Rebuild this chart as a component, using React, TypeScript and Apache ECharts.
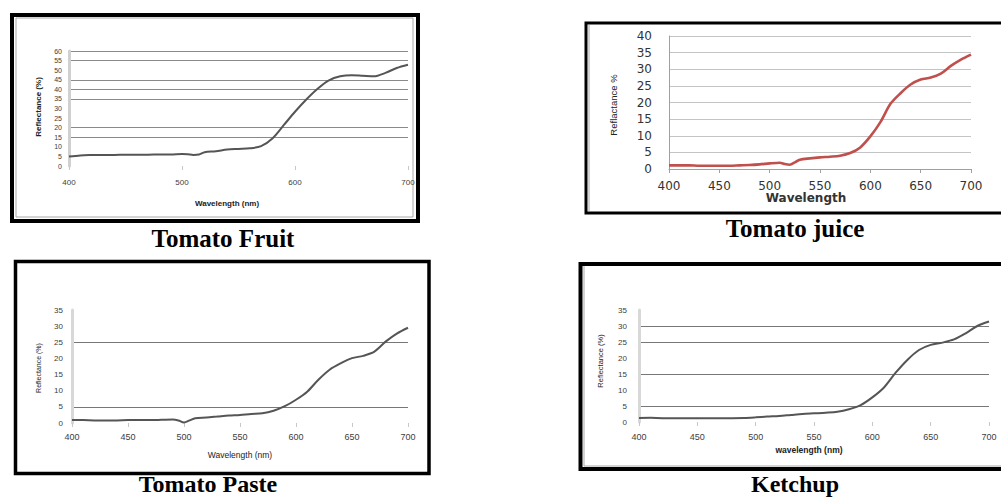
import React, { useEffect, useRef } from "react";
import * as echarts from "echarts";

// ---------- data ----------
const fruitWavelengths = [400, 410, 420, 430, 440, 450, 460, 470, 480, 490, 500, 505, 510, 515, 520, 530, 540, 550, 560, 570, 580, 590, 600, 610, 620, 630, 640, 650, 660, 670, 680, 690, 700];
const fruitReflectance = [4.9, 5.5, 5.7, 5.8, 5.8, 5.9, 5.9, 5.9, 6.0, 6.0, 6.2, 6.1, 5.8, 6.0, 7.2, 7.7, 8.6, 8.9, 9.2, 10.4, 14.4, 21.3, 28.3, 34.7, 40.3, 44.7, 46.8, 47.4, 47.1, 46.8, 48.6, 51.1, 52.8];

const juiceWavelengths = [400, 410, 420, 430, 440, 450, 460, 470, 480, 490, 500, 510, 515, 520, 525, 530, 540, 550, 560, 570, 580, 590, 600, 610, 620, 630, 640, 650, 660, 670, 680, 690, 700];
const juiceReflectance = [1.1, 1.1, 1.1, 1.0, 1.0, 1.0, 1.0, 1.1, 1.2, 1.4, 1.7, 1.9, 1.5, 1.3, 2.0, 2.8, 3.2, 3.5, 3.7, 4.0, 4.8, 6.5, 9.8, 14.1, 19.6, 22.8, 25.4, 26.9, 27.5, 28.7, 31.0, 32.9, 34.4];

const pasteWavelengths = [400, 410, 420, 430, 440, 450, 460, 470, 480, 490, 495, 500, 505, 510, 520, 530, 540, 550, 560, 570, 580, 590, 600, 610, 620, 630, 640, 650, 660, 670, 680, 690, 700];
const pasteReflectance = [0.9, 0.9, 0.8, 0.8, 0.8, 0.9, 0.9, 0.9, 1.0, 1.1, 0.8, 0.15, 0.8, 1.5, 1.7, 2.0, 2.3, 2.5, 2.8, 3.0, 3.8, 5.2, 7.2, 9.7, 13.4, 16.5, 18.5, 20.1, 20.8, 22.1, 25.2, 27.7, 29.5];

const ketchupWavelengths = [400, 410, 420, 430, 440, 450, 460, 470, 480, 490, 500, 510, 520, 530, 540, 550, 560, 570, 580, 590, 600, 610, 620, 630, 640, 650, 660, 670, 680, 690, 700];
const ketchupReflectance = [1.25, 1.3, 1.2, 1.2, 1.15, 1.15, 1.15, 1.2, 1.2, 1.25, 1.45, 1.7, 1.9, 2.2, 2.5, 2.7, 2.9, 3.2, 4.0, 5.3, 7.7, 10.8, 15.4, 19.4, 22.5, 24.1, 24.8, 25.8, 27.7, 30.0, 31.4];

// gridlines that are visible in each panel
const fruitGridValues = [15, 20, 35, 40, 45, 55, 60];
const pasteGridValues = [5, 25];
const ketchupGridValues = [5, 15, 25, 30];

const captions = ["Tomato Fruit", "Tomato juice", "Tomato Paste", "Ketchup"];
const yTitles = ["Reflectance (%)", "Reflactance %", "Reflectance (%)", "Reflectance (%)"];
const xTitles = ["Wavelength (nm)", "Wavelength", "Wavelength (nm)", "wavelength (nm)"];

// ---------- helpers ----------
const pairs = (xs: number[], ys: number[]) => xs.map((x, i) => [x, ys[i]]);

function gridColors(max: number, step: number, visible: number[], color: string) {
  const arr: string[] = [];
  for (let v = 0; v <= max; v += step) arr.push(visible.includes(v) ? color : "rgba(0,0,0,0)");
  return arr;
}

const SMALL = "Liberation Sans";
const GRAYLINE = "#8a8a8a";
const LABEL = "#404040";

export default function App() {
  const ref = useRef<HTMLDivElement>(null);

  useEffect(() => {
    if (!ref.current) return;
    const chart = echarts.init(ref.current, undefined, { renderer: "svg" });

    const smallX = (margin: number, size: number, interval: number) => ({
      type: "value",
      min: 400,
      max: 700,
      interval,
      splitLine: { show: false },
      axisLine: { show: false },
      axisTick: { show: true, length: 4, lineStyle: { color: "#c8c8c8", width: 1 } },
      axisLabel: { margin, fontSize: size, color: LABEL, fontFamily: SMALL },
    });

    const option: any = {
      animation: false,
      backgroundColor: "#ffffff",
      grid: [
        { left: 69, top: 51, width: 339, height: 115 },
        { left: 669, top: 36, width: 302, height: 133 },
        { left: 72, top: 310, width: 336, height: 113 },
        { left: 639, top: 310, width: 350, height: 112 },
      ],
      xAxis: [
        { gridIndex: 0, ...smallX(12, 8, 100) },
        {
          gridIndex: 1,
          type: "value",
          min: 400,
          max: 700,
          interval: 50,
          splitLine: { show: false },
          axisLine: { show: true, lineStyle: { color: "#a0a0a0", width: 1 } },
          axisTick: { show: true, length: 4, lineStyle: { color: "#a0a0a0" } },
          axisLabel: { margin: 11, fontSize: 12, color: "#333", fontFamily: "DejaVu Sans" },
        },
        { gridIndex: 2, ...smallX(9, 9, 50) },
        { gridIndex: 3, ...smallX(10, 9, 50) },
      ],
      yAxis: [
        {
          gridIndex: 0,
          type: "value",
          min: 0,
          max: 60,
          interval: 5,
          axisLine: { show: true, lineStyle: { color: "#d0d0d0", width: 3 } },
          axisTick: { show: false },
          axisLabel: { margin: 7, fontSize: 7, color: LABEL, fontFamily: SMALL },
          splitLine: { show: true, lineStyle: { color: gridColors(60, 5, fruitGridValues, GRAYLINE), width: 1 } },
        },
        {
          gridIndex: 1,
          type: "value",
          min: 0,
          max: 40,
          interval: 5,
          axisLine: { show: true, lineStyle: { color: "#a0a0a0", width: 1 } },
          axisTick: { show: false },
          axisLabel: { margin: 17, fontSize: 12, color: "#333", fontFamily: "DejaVu Sans" },
          splitLine: { show: true, lineStyle: { color: "#c4c4c4", width: 1 } },
        },
        {
          gridIndex: 2,
          type: "value",
          min: 0,
          max: 35,
          interval: 5,
          axisLine: { show: true, lineStyle: { color: "#d8d8d8", width: 3 } },
          axisTick: { show: false },
          axisLabel: { margin: 9, fontSize: 8, color: LABEL, fontFamily: SMALL },
          splitLine: { show: true, lineStyle: { color: gridColors(35, 5, pasteGridValues, "#777"), width: 1 } },
        },
        {
          gridIndex: 3,
          type: "value",
          min: 0,
          max: 35,
          interval: 5,
          axisLine: { show: true, lineStyle: { color: "#d8d8d8", width: 3 } },
          axisTick: { show: false },
          axisLabel: { margin: 12, fontSize: 8, color: LABEL, fontFamily: SMALL },
          splitLine: { show: true, lineStyle: { color: gridColors(35, 5, ketchupGridValues, "#777"), width: 1 } },
        },
      ],
      series: [
        {
          name: captions[0],
          type: "line",
          xAxisIndex: 0,
          yAxisIndex: 0,
          data: pairs(fruitWavelengths, fruitReflectance),
          smooth: 0.3,
          showSymbol: false,
          lineStyle: { color: "#555555", width: 2 },
        },
        {
          name: captions[1],
          type: "line",
          xAxisIndex: 1,
          yAxisIndex: 1,
          data: pairs(juiceWavelengths, juiceReflectance),
          smooth: 0.3,
          showSymbol: false,
          lineStyle: { color: "#c0504d", width: 2.6 },
        },
        {
          name: captions[2],
          type: "line",
          xAxisIndex: 2,
          yAxisIndex: 2,
          data: pairs(pasteWavelengths, pasteReflectance),
          smooth: 0.3,
          showSymbol: false,
          lineStyle: { color: "#555555", width: 2 },
        },
        {
          name: captions[3],
          type: "line",
          xAxisIndex: 3,
          yAxisIndex: 3,
          data: pairs(ketchupWavelengths, ketchupReflectance),
          smooth: 0.3,
          showSymbol: false,
          lineStyle: { color: "#555555", width: 2 },
        },
      ],
      graphic: [
        // panel frames
        { type: "rect", shape: { x: 12, y: 15, width: 406, height: 206 }, style: { fill: "none", stroke: "#000", lineWidth: 4 } },
        { type: "rect", shape: { x: 16, y: 18, width: 397, height: 199 }, style: { fill: "none", stroke: "#a8a8a8", lineWidth: 1 } },
        { type: "rect", shape: { x: 586, y: 23, width: 430, height: 190 }, style: { fill: "none", stroke: "#000", lineWidth: 3 } },
        { type: "line", shape: { x1: 589, y1: 25, x2: 589, y2: 211 }, style: { stroke: "#a8a8a8", lineWidth: 1 } },
        { type: "rect", shape: { x: 15.5, y: 261.5, width: 413.5, height: 212 }, style: { fill: "none", stroke: "#000", lineWidth: 3.5 } },
        { type: "rect", shape: { x: 580.5, y: 264, width: 440, height: 205 }, style: { fill: "none", stroke: "#000", lineWidth: 4 } },
        { type: "line", shape: { x1: 584, y1: 266, x2: 584, y2: 466 }, style: { stroke: "#a8a8a8", lineWidth: 1 } },
        { type: "line", shape: { x1: 584, y1: 466, x2: 1001, y2: 466 }, style: { stroke: "#a8a8a8", lineWidth: 1 } },

        // y titles
        { type: "text", x: 38, y: 107, rotation: Math.PI / 2, style: { text: yTitles[0], font: `bold 8px "${SMALL}"`, fill: "#222", align: "center", verticalAlign: "middle" } },
        { type: "text", x: 613, y: 105, rotation: Math.PI / 2, style: { text: yTitles[1], font: `9.5px "${SMALL}"`, fill: "#222", align: "center", verticalAlign: "middle" } },
        { type: "text", x: 38, y: 368, rotation: Math.PI / 2, style: { text: yTitles[2], font: `7px "${SMALL}"`, fill: "#222", align: "center", verticalAlign: "middle" } },
        { type: "text", x: 600, y: 361, rotation: Math.PI / 2, style: { text: yTitles[3], font: `7.5px "${SMALL}"`, fill: "#222", align: "center", verticalAlign: "middle" } },

        // x titles
        { type: "text", x: 227, y: 203, style: { text: xTitles[0], font: `bold 8px "${SMALL}"`, fill: "#222", align: "center", verticalAlign: "middle" } },
        { type: "text", x: 806, y: 198, style: { text: xTitles[1], font: `bold 12px "DejaVu Sans"`, fill: "#333", align: "center", verticalAlign: "middle" } },
        { type: "text", x: 240, y: 455, style: { text: xTitles[2], font: `8.5px "${SMALL}"`, fill: "#222", align: "center", verticalAlign: "middle" } },
        { type: "text", x: 809, y: 450, style: { text: xTitles[3], font: `bold 8.5px "${SMALL}"`, fill: "#222", align: "center", verticalAlign: "middle" } },

        // captions
        { type: "text", x: 223, y: 238, style: { text: captions[0], font: `bold 25px "Liberation Serif"`, fill: "#000", align: "center", verticalAlign: "middle" } },
        { type: "text", x: 795, y: 228, style: { text: captions[1], font: `bold 25px "Liberation Serif"`, fill: "#000", align: "center", verticalAlign: "middle" } },
        { type: "text", x: 208, y: 484, style: { text: captions[2], font: `bold 24px "Liberation Serif"`, fill: "#000", align: "center", verticalAlign: "middle" } },
        { type: "text", x: 795, y: 484, style: { text: captions[3], font: `bold 24px "Liberation Serif"`, fill: "#000", align: "center", verticalAlign: "middle" } },
      ],
    };

    chart.setOption(option);
    return () => chart.dispose();
  }, []);

  return (
    <div
      ref={ref}
      style={{ position: "absolute", left: 0, top: 0, width: 1001, height: 497, background: "#fff" }}
    />
  );
}
